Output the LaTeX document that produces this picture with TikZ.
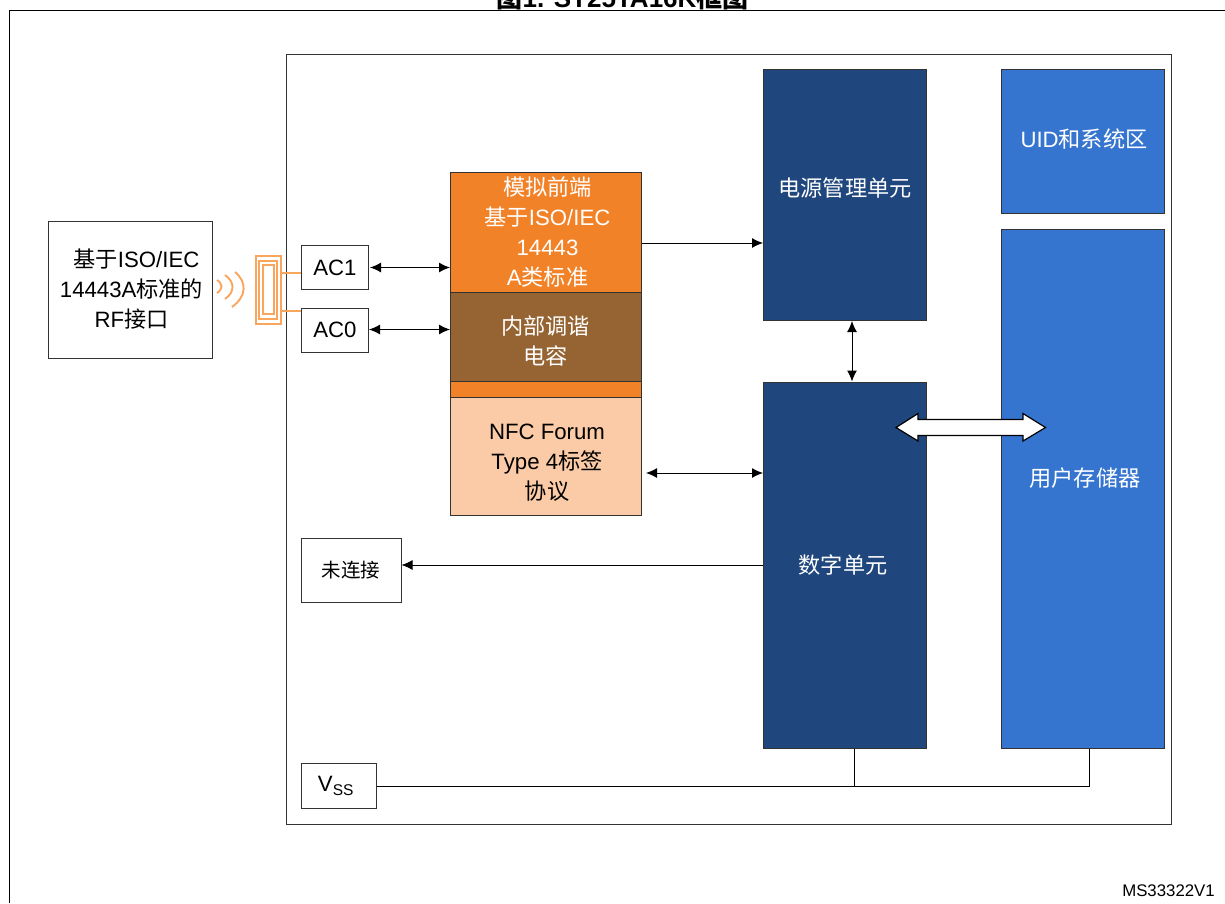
\documentclass[tikz,border=0pt]{standalone}
\usepackage{fontspec}
\setmainfont{Liberation Sans}
\newfontfamily\cjk{Noto Sans CJK SC}
\usetikzlibrary{arrows.meta}
\newcommand{\zh}[1]{{\cjk #1}}
\definecolor{navy}{HTML}{1F477D}
\definecolor{midblue}{HTML}{3575CF}
\definecolor{orangeb}{HTML}{F28228}
\definecolor{brownb}{HTML}{966433}
\definecolor{peach}{HTML}{FACBA6}
\definecolor{coil}{HTML}{F9A55E}
\definecolor{edge}{HTML}{333333}
\tikzset{
  x=1pt,y=-1pt,
  lab/.style={font=\fontsize{22.2}{30}\selectfont,align=center,text=black},
  wlab/.style={lab,text=white},
  pin/.style={draw=edge,line width=1pt,fill=white,lab,inner sep=0pt},
  block/.style={draw=edge,line width=1pt,inner sep=0pt},
  conn/.style={draw=black,line width=1pt},
  dbl/.style={conn,{Latex[length=11pt,width=10pt]}-{Latex[length=11pt,width=10pt]}},
  single/.style={conn,-{Latex[length=11pt,width=10pt]}},
  coilr/.style={draw=coil,line width=1.9pt,inner sep=0pt},
  wave/.style={draw=coil,line width=1.9pt},
}
\begin{document}
\begin{tikzpicture}
\useasboundingbox (0,0) rectangle (1225,903);
\draw[black,line width=1.8pt] (9.5,903) -- (9.5,10.5) -- (1225,10.5);
\node[font=\bfseries\fontsize{26}{30}\selectfont,anchor=base,inner sep=0pt] (title) at (622.5,7.5) {\zh{图}1. ST25TA16K\zh{框图}};
\node[draw=edge,line width=1pt,minimum width=885pt,minimum height=770pt,inner sep=0pt] (chip) at (728.5,439) {};
\node[font=\fontsize{16.8}{20}\selectfont] (ms) at (1168.5,890.5) {MS33322V1};

\node[pin,minimum width=164pt,minimum height=137pt] (rf) at (130,290) {};
\node[lab] (rft) at (131.5,289.5) {\hspace*{10pt}\zh{基于}ISO/IEC\\14443A\zh{标准的}\\RF\zh{接口}};

\node[pin,minimum width=67pt,minimum height=44pt] (ac1) at (335,267.5) {AC1};
\node[pin,minimum width=67pt,minimum height=44pt] (ac0) at (335,330) {AC0};
\node[pin,minimum width=100pt,minimum height=64pt,font=\fontsize{19.5}{24}\selectfont] (nc) at (351,570) {\zh{未连接}};
\node[pin,minimum width=75pt,minimum height=45pt] (vss) at (338.5,786) {V\textsubscript{SS}\hspace*{5pt}};

\node[block,fill=orangeb,minimum width=191pt,minimum height=225pt] (afe) at (546,284.5) {};
\node[wlab] (afet) at (547.5,232) {\zh{模拟前端}\\\zh{基于}ISO/IEC\\14443\\A\zh{类标准}};
\node[block,fill=brownb,minimum width=191pt,minimum height=89pt] (cap) at (546,337) {};
\node[wlab] (capt) at (545.5,341) {\zh{内部调谐}\\\zh{电容}};
\node[block,fill=peach,minimum width=191pt,minimum height=118pt] (nfc) at (546,456) {};
\node[lab] (nfct) at (547,462.5) {NFC Forum\\Type 4\zh{标签}\\\zh{协议}};

\node[block,fill=navy,minimum width=163pt,minimum height=251pt] (pwr) at (845,195) {};
\node[wlab] (pwrt) at (845,188) {\zh{电源管理单元}};
\node[block,fill=navy,minimum width=163pt,minimum height=366pt] (dig) at (845,565) {};
\node[wlab] (digt) at (843,565) {\zh{数字单元}};
\node[block,fill=midblue,minimum width=163pt,minimum height=144pt] (uid) at (1083,141) {};
\node[wlab] (uidt) at (1084,139) {UID\zh{和系统区}};
\node[block,fill=midblue,minimum width=163pt,minimum height=519pt] (mem) at (1083,488.5) {};
\node[wlab] (memt) at (1085,478) {\zh{用户存储器}};

% connectors
\draw[dbl] (370,267.5) -- (afe.west |- 0,267.5);
\draw[dbl] (369,329.5) -- (cap.west |- 0,329.5);
\draw[single] (afe.east |- 0,243) -- (pwr.west |- 0,243);
\draw[dbl] (pwr.south -| 852,0) -- (dig.north -| 852,0);
\draw[dbl] (646,473) -- (dig.west |- 0,473);
\draw[single] (dig.west |- 0,565) -- (nc.east |- 0,565);
\draw[conn] (vss.east) -- (1089.5,786) -- (mem.south -| 1089.5,0);
\draw[conn] (dig.south -| 854.5,0) -- (854.5,786);

% wide data bus between the digital unit and the user memory
\draw[black,fill=white,line width=1.2pt,line join=miter]
  (896,427.5) -- (918,413.5) -- (918,419.5) -- (1023,419.5) -- (1023,413.5) -- (1045.5,427.5)
  -- (1023,441) -- (1023,435.5) -- (918,435.5) -- (918,441) -- cycle;

% coil
\node[coilr,minimum width=25pt,minimum height=68pt] (c1) at (268.5,290) {};
\node[coilr,minimum width=18pt,minimum height=58pt] (c2) at (268.3,290) {};
\node[coilr,minimum width=11pt,minimum height=49pt] (c3) at (268.7,289.5) {};
\draw[coilr] (c1.east |- 0,272.7) -- (ac1.west |- 0,272.7);
\draw[coilr] (c1.east |- 0,311) -- (ac0.west |- 0,311);
\draw[wave] (217,280) .. controls (223,284) and (223,289) .. (217,293);
\draw[wave] (225,275) .. controls (235,282) and (235,292) .. (225,299);
\draw[wave] (235,272) .. controls (247,282) and (247,296) .. (232,307);
\end{tikzpicture}
\end{document}
